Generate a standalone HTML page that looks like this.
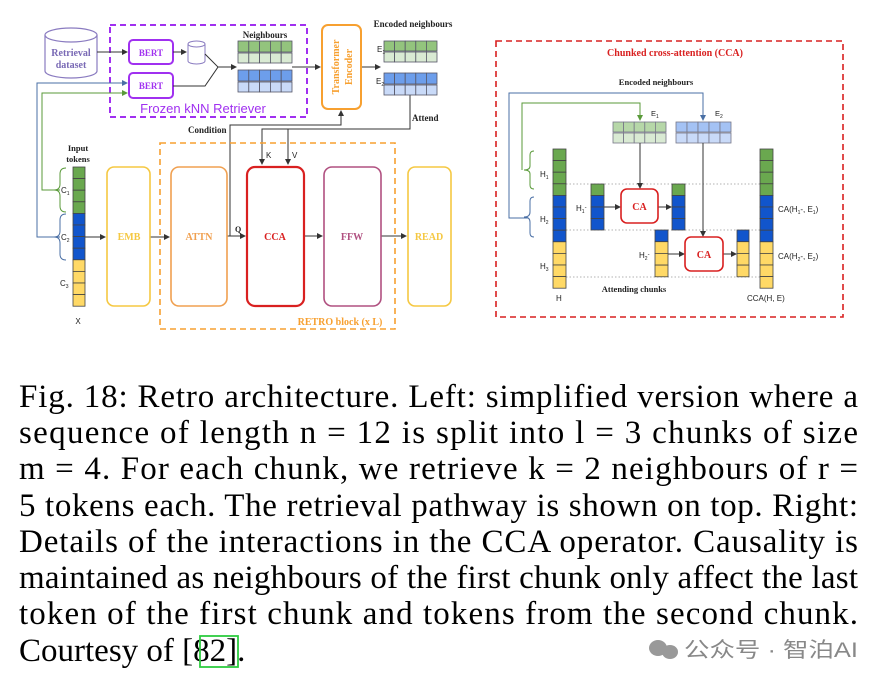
<!DOCTYPE html>
<html><head><meta charset="utf-8"><style>
html,body{margin:0;padding:0;background:#fff;width:883px;height:682px;overflow:hidden}
svg{display:block}
.s{font-family:"Liberation Serif",serif;font-weight:bold}
.a{font-family:"Liberation Sans",sans-serif}
.c{font-family:"Liberation Serif",serif;font-size:33px;fill:#000}
</style></head><body>
<svg width="883" height="682" viewBox="0 0 883 682" xmlns="http://www.w3.org/2000/svg">
<defs>
<marker id="ar" markerWidth="6" markerHeight="6" refX="5" refY="3" orient="auto" markerUnits="userSpaceOnUse"><path d="M0,0L6,3L0,6z" fill="#333"/></marker>
<marker id="ab" markerWidth="6" markerHeight="6" refX="5" refY="3" orient="auto" markerUnits="userSpaceOnUse"><path d="M0,0L6,3L0,6z" fill="#4a6fa5"/></marker>
<marker id="ag" markerWidth="6" markerHeight="6" refX="5" refY="3" orient="auto" markerUnits="userSpaceOnUse"><path d="M0,0L6,3L0,6z" fill="#5a9a3a"/></marker>
</defs>
<g stroke="#444" stroke-width="0.8">
<path d="M45,35 v36 a26,7 0 0 0 52,0 v-36" fill="#fff" stroke="#8a7bc0" stroke-width="1.2"/>
<ellipse cx="71" cy="35" rx="26" ry="7" fill="#fff" stroke="#8a7bc0" stroke-width="1.2"/>
</g>
<text x="71" y="56" class="s" font-size="10" fill="#7a6ab5" text-anchor="middle">Retrieval</text>
<text x="71" y="68" class="s" font-size="10" fill="#7a6ab5" text-anchor="middle">dataset</text>
<rect x="110" y="25" width="197" height="92" fill="none" stroke="#a030f0" stroke-width="2" stroke-dasharray="6,4"/>
<text x="203" y="113" class="a" font-size="13" fill="#a030f0" text-anchor="middle">Frozen kNN Retriever</text>
<rect x="129" y="40" width="44" height="24" rx="4" fill="#fff" stroke="#a030f0" stroke-width="2"/>
<rect x="129" y="73" width="44" height="25" rx="4" fill="#fff" stroke="#a030f0" stroke-width="2"/>
<text x="151" y="56" class="s" font-size="9" fill="#a030f0" text-anchor="middle">BERT</text>
<text x="151" y="89" class="s" font-size="9" fill="#a030f0" text-anchor="middle">BERT</text>
<path d="M188,44 v17 a8.5,3 0 0 0 17,0 v-17" fill="#fff" stroke="#8a7bc0"/>
<ellipse cx="196.5" cy="44" rx="8.5" ry="3" fill="#fff" stroke="#8a7bc0"/>
<g fill="none" stroke="#333" stroke-width="1">
<path d="M97,52 H127" marker-end="url(#ar)"/>
<path d="M173,52 H186" marker-end="url(#ar)"/>
<path d="M205,54 L218,67 L205,86 H173"/>
<path d="M218,67 H236" marker-end="url(#ar)"/>
<path d="M292,67 H320" marker-end="url(#ar)"/>
<path d="M361,67 H380" marker-end="url(#ar)"/>
<path d="M410,95 V129 H262 V164" marker-end="url(#ar)"/>
<path d="M288,129 V164" marker-end="url(#ar)"/>
<path d="M230,236 V125 H341 V111" marker-end="url(#ar)"/>
<path d="M227,236 H245" marker-end="url(#ar)"/>
<path d="M85,237 H105" marker-end="url(#ar)"/>
<path d="M150,237 H169" marker-end="url(#ar)"/>
<path d="M304,236 H322" marker-end="url(#ar)"/>
<path d="M381,236 H406" marker-end="url(#ar)"/>
</g>
<path d="M60,237 H37 V83 H127" fill="none" stroke="#4a6fa5" stroke-width="1" marker-end="url(#ab)"/>
<path d="M60,190 H42 V93 H127" fill="none" stroke="#5a9a3a" stroke-width="1" marker-end="url(#ag)"/>
<text x="265" y="38" class="s" font-size="9" fill="#222" text-anchor="middle">Neighbours</text>
<g stroke="#556" stroke-width="0.8">
<g fill="#93c47d"><rect x="238" y="41" width="10.8" height="11"/><rect x="248.8" y="41" width="10.8" height="11"/><rect x="259.6" y="41" width="10.8" height="11"/><rect x="270.4" y="41" width="10.8" height="11"/><rect x="281.2" y="41" width="10.8" height="11"/></g>
<g fill="#d9ead3"><rect x="238" y="53" width="10.8" height="10"/><rect x="248.8" y="53" width="10.8" height="10"/><rect x="259.6" y="53" width="10.8" height="10"/><rect x="270.4" y="53" width="10.8" height="10"/><rect x="281.2" y="53" width="10.8" height="10"/></g>
<g fill="#6d9eeb"><rect x="238" y="70" width="10.8" height="11"/><rect x="248.8" y="70" width="10.8" height="11"/><rect x="259.6" y="70" width="10.8" height="11"/><rect x="270.4" y="70" width="10.8" height="11"/><rect x="281.2" y="70" width="10.8" height="11"/></g>
<g fill="#c9daf8"><rect x="238" y="82" width="10.8" height="10"/><rect x="248.8" y="82" width="10.8" height="10"/><rect x="259.6" y="82" width="10.8" height="10"/><rect x="270.4" y="82" width="10.8" height="10"/><rect x="281.2" y="82" width="10.8" height="10"/></g>
<g fill="#93c47d"><rect x="384" y="41" width="10.6" height="10"/><rect x="394.6" y="41" width="10.6" height="10"/><rect x="405.2" y="41" width="10.6" height="10"/><rect x="415.8" y="41" width="10.6" height="10"/><rect x="426.4" y="41" width="10.6" height="10"/></g>
<g fill="#d9ead3"><rect x="384" y="52" width="10.6" height="10"/><rect x="394.6" y="52" width="10.6" height="10"/><rect x="405.2" y="52" width="10.6" height="10"/><rect x="415.8" y="52" width="10.6" height="10"/><rect x="426.4" y="52" width="10.6" height="10"/></g>
<g fill="#6d9eeb"><rect x="384" y="73" width="10.6" height="11"/><rect x="394.6" y="73" width="10.6" height="11"/><rect x="405.2" y="73" width="10.6" height="11"/><rect x="415.8" y="73" width="10.6" height="11"/><rect x="426.4" y="73" width="10.6" height="11"/></g>
<g fill="#c9daf8"><rect x="384" y="85" width="10.6" height="10"/><rect x="394.6" y="85" width="10.6" height="10"/><rect x="405.2" y="85" width="10.6" height="10"/><rect x="415.8" y="85" width="10.6" height="10"/><rect x="426.4" y="85" width="10.6" height="10"/></g>
</g>
<rect x="322" y="25" width="39" height="84" rx="6" fill="#fff" stroke="#f7a030" stroke-width="2"/>
<text transform="translate(339,67) rotate(-90)" class="s" font-size="10" fill="#f7a030" text-anchor="middle">Transformer</text>
<text transform="translate(352,67) rotate(-90)" class="s" font-size="10" fill="#f7a030" text-anchor="middle">Encoder</text>
<text x="413" y="27" class="s" font-size="9" fill="#222" text-anchor="middle">Encoded neighbours</text>
<text x="377" y="52" class="a" font-size="8" fill="#222">E<tspan font-size="5" dy="2">1</tspan></text>
<text x="376" y="84" class="a" font-size="8" fill="#222">E<tspan font-size="5" dy="2">2</tspan></text>
<text x="412" y="121" class="s" font-size="9" fill="#222">Attend</text>
<text x="188" y="133" class="s" font-size="9" fill="#222">Condition</text>
<text x="266" y="158" class="a" font-size="8" fill="#222">K</text>
<text x="292" y="158" class="a" font-size="8" fill="#222">V</text>
<text x="235" y="232" class="s" font-size="8" fill="#222">Q</text>
<rect x="160" y="143" width="235" height="186" fill="none" stroke="#f7a030" stroke-width="1.6" stroke-dasharray="6,4"/>
<text x="340" y="325" class="s" font-size="10" fill="#f7a030" text-anchor="middle">RETRO block (x L)</text>
<text x="78" y="151" class="s" font-size="8.5" fill="#222" text-anchor="middle">Input</text>
<text x="78" y="162" class="s" font-size="8.5" fill="#222" text-anchor="middle">tokens</text>
<g stroke="#444" stroke-width="0.8">
<g fill="#6aa84f"><rect x="73" y="167" width="12" height="11.6"/><rect x="73" y="178.6" width="12" height="11.6"/><rect x="73" y="190.2" width="12" height="11.6"/><rect x="73" y="201.8" width="12" height="11.6"/></g>
<g fill="#1155cc"><rect x="73" y="213.4" width="12" height="11.6"/><rect x="73" y="225" width="12" height="11.6"/><rect x="73" y="236.6" width="12" height="11.6"/><rect x="73" y="248.2" width="12" height="11.6"/></g>
<g fill="#ffd966"><rect x="73" y="259.8" width="12" height="11.6"/><rect x="73" y="271.4" width="12" height="11.6"/><rect x="73" y="283" width="12" height="11.6"/><rect x="73" y="294.6" width="12" height="11.6"/></g>
</g>
<path d="M66,168 q-6,0 -6,6 v10 q0,6 -6,6 q6,0 6,6 v10 q0,6 6,6" fill="none" stroke="#5a9a3a"/>
<path d="M66,214 q-6,0 -6,6 v11 q0,6 -6,6 q6,0 6,6 v11 q0,6 6,6" fill="none" stroke="#4a6fa5"/>
<text x="61" y="193" class="a" font-size="8" fill="#222">C<tspan font-size="5" dy="2">1</tspan></text>
<text x="61" y="240" class="a" font-size="8" fill="#222">C<tspan font-size="5" dy="2">2</tspan></text>
<text x="60" y="286" class="a" font-size="8" fill="#222">C<tspan font-size="5" dy="2">3</tspan></text>
<text x="78" y="324" class="a" font-size="8" fill="#222" text-anchor="middle">X</text>
<rect x="107" y="167" width="43" height="139" rx="7" fill="none" stroke="#f5c842" stroke-width="1.6"/>
<rect x="171" y="167" width="56" height="139" rx="8" fill="none" stroke="#f0a050" stroke-width="1.6"/>
<rect x="247" y="167" width="57" height="139" rx="8" fill="none" stroke="#d92020" stroke-width="2.2"/>
<rect x="324" y="167" width="57" height="139" rx="8" fill="none" stroke="#b05080" stroke-width="1.6"/>
<rect x="408" y="167" width="43" height="139" rx="7" fill="none" stroke="#f5c842" stroke-width="1.6"/>
<text x="129" y="240" class="s" font-size="10" fill="#f5c842" text-anchor="middle">EMB</text>
<text x="199" y="240" class="s" font-size="10" fill="#f0a050" text-anchor="middle">ATTN</text>
<text x="275" y="240" class="s" font-size="10" fill="#d92020" text-anchor="middle">CCA</text>
<text x="352" y="240" class="s" font-size="10" fill="#b05080" text-anchor="middle">FFW</text>
<text x="429" y="240" class="s" font-size="10" fill="#f5c842" text-anchor="middle">READ</text>

<rect x="496" y="41" width="347" height="276" fill="none" stroke="#d92020" stroke-width="1.6" stroke-dasharray="6,4"/>
<text x="675" y="56" class="s" font-size="10" fill="#d92020" text-anchor="middle">Chunked cross-attention (CCA)</text>
<text x="656" y="85" class="s" font-size="8.5" fill="#222" text-anchor="middle">Encoded neighbours</text>
<path d="M522,170 V103 H640 V120" fill="none" stroke="#5a9a3a" marker-end="url(#ag)"/>
<path d="M528,218 H509 V93 H703 V120" fill="none" stroke="#4a6fa5" marker-end="url(#ab)"/>
<text x="651" y="116" class="a" font-size="7.5" fill="#222">E<tspan font-size="5" dy="2">1</tspan></text>
<text x="715" y="116" class="a" font-size="7.5" fill="#222">E<tspan font-size="5" dy="2">2</tspan></text>
<g stroke="#778" stroke-width="0.8">
<g fill="#b6d7a8"><rect x="613" y="122" width="10.6" height="10"/><rect x="623.6" y="122" width="10.6" height="10"/><rect x="634.2" y="122" width="10.6" height="10"/><rect x="644.8" y="122" width="10.6" height="10"/><rect x="655.4" y="122" width="10.6" height="10"/></g>
<g fill="#d9ead3"><rect x="613" y="133" width="10.6" height="10"/><rect x="623.6" y="133" width="10.6" height="10"/><rect x="634.2" y="133" width="10.6" height="10"/><rect x="644.8" y="133" width="10.6" height="10"/><rect x="655.4" y="133" width="10.6" height="10"/></g>
<g fill="#a4c2f4"><rect x="676" y="122" width="11" height="10"/><rect x="687" y="122" width="11" height="10"/><rect x="698" y="122" width="11" height="10"/><rect x="709" y="122" width="11" height="10"/><rect x="720" y="122" width="11" height="10"/></g>
<g fill="#c9daf8"><rect x="676" y="133" width="11" height="10"/><rect x="687" y="133" width="11" height="10"/><rect x="698" y="133" width="11" height="10"/><rect x="709" y="133" width="11" height="10"/><rect x="720" y="133" width="11" height="10"/></g>
</g>
<g stroke="#999" stroke-width="0.8" stroke-dasharray="1.5,2">
<path d="M566,184 H760 M566,230 H760 M566,277 H760"/>
</g>
<g fill="none" stroke="#333" stroke-width="1">
<path d="M640,143 V188" marker-end="url(#ar)"/>
<path d="M703,143 V236" marker-end="url(#ar)"/>
<path d="M604,207 H620" marker-end="url(#ar)"/>
<path d="M658,207 H671" marker-end="url(#ar)"/>
<path d="M668,254 H684" marker-end="url(#ar)"/>
<path d="M723,254 H736" marker-end="url(#ar)"/>
</g>
<path d="M534,151 q-4,0 -4,4 v11 q0,4 -6,4 q6,0 6,4 v11 q0,4 4,4" fill="none" stroke="#5a9a3a"/>
<path d="M534,197 q-4,0 -4,4 v11 q0,5 -6,5 q6,0 6,5 v11 q0,4 4,4" fill="none" stroke="#4a6fa5"/>
<g stroke="#444" stroke-width="0.8">
<g fill="#6aa84f"><rect x="553" y="149" width="13" height="11.6"/><rect x="553" y="160.6" width="13" height="11.6"/><rect x="553" y="172.2" width="13" height="11.6"/><rect x="553" y="183.8" width="13" height="11.6"/>
<rect x="760" y="149" width="13" height="11.6"/><rect x="760" y="160.6" width="13" height="11.6"/><rect x="760" y="172.2" width="13" height="11.6"/><rect x="760" y="183.8" width="13" height="11.6"/>
<rect x="591" y="184" width="13" height="11.5"/><rect x="672" y="184" width="13" height="11.5"/></g>
<g fill="#1155cc"><rect x="553" y="195.4" width="13" height="11.6"/><rect x="553" y="207" width="13" height="11.6"/><rect x="553" y="218.6" width="13" height="11.6"/><rect x="553" y="230.2" width="13" height="11.6"/>
<rect x="760" y="195.4" width="13" height="11.6"/><rect x="760" y="207" width="13" height="11.6"/><rect x="760" y="218.6" width="13" height="11.6"/><rect x="760" y="230.2" width="13" height="11.6"/>
<rect x="591" y="195.5" width="13" height="11.5"/><rect x="591" y="207" width="13" height="11.5"/><rect x="591" y="218.5" width="13" height="11.5"/>
<rect x="672" y="195.5" width="13" height="11.5"/><rect x="672" y="207" width="13" height="11.5"/><rect x="672" y="218.5" width="13" height="11.5"/>
<rect x="655" y="230" width="13" height="11.7"/><rect x="737" y="230" width="12" height="11.7"/></g>
<g fill="#ffd966"><rect x="553" y="241.8" width="13" height="11.6"/><rect x="553" y="253.4" width="13" height="11.6"/><rect x="553" y="265" width="13" height="11.6"/><rect x="553" y="276.6" width="13" height="11.6"/>
<rect x="760" y="241.8" width="13" height="11.6"/><rect x="760" y="253.4" width="13" height="11.6"/><rect x="760" y="265" width="13" height="11.6"/><rect x="760" y="276.6" width="13" height="11.6"/>
<rect x="655" y="241.7" width="13" height="11.7"/><rect x="655" y="253.4" width="13" height="11.7"/><rect x="655" y="265.1" width="13" height="11.7"/>
<rect x="737" y="241.7" width="12" height="11.7"/><rect x="737" y="253.4" width="12" height="11.7"/><rect x="737" y="265.1" width="12" height="11.7"/></g>
</g>
<rect x="621" y="189" width="37" height="34" rx="6" fill="#fff" stroke="#d92020" stroke-width="1.6"/>
<rect x="685" y="237" width="38" height="34" rx="6" fill="#fff" stroke="#d92020" stroke-width="1.6"/>
<text x="639.5" y="210" class="s" font-size="10" fill="#d92020" text-anchor="middle">CA</text>
<text x="704" y="258" class="s" font-size="10" fill="#d92020" text-anchor="middle">CA</text>
<g class="a" font-size="8" fill="#222">
<text x="540" y="177">H<tspan font-size="5" dy="2">1</tspan></text>
<text x="540" y="222">H<tspan font-size="5" dy="2">2</tspan></text>
<text x="540" y="269">H<tspan font-size="5" dy="2">3</tspan></text>
<text x="556" y="301">H</text>
<text x="576" y="211">H<tspan font-size="5" dy="2">1</tspan><tspan dy="-4" font-size="6">-</tspan></text>
<text x="639" y="258">H<tspan font-size="5" dy="2">2</tspan><tspan dy="-4" font-size="6">-</tspan></text>
<text x="778" y="212">CA(H<tspan font-size="5" dy="2">1</tspan><tspan dy="-2">-, E</tspan><tspan font-size="5" dy="2">1</tspan><tspan dy="-2">)</tspan></text>
<text x="778" y="259">CA(H<tspan font-size="5" dy="2">2</tspan><tspan dy="-2">-, E</tspan><tspan font-size="5" dy="2">2</tspan><tspan dy="-2">)</tspan></text>
<text x="747" y="301">CCA(H, E)</text>
</g>
<text x="634" y="292" class="s" font-size="8.5" fill="#222" text-anchor="middle">Attending chunks</text>

<text x="19" y="407" class="c" textLength="839" lengthAdjust="spacing">Fig. 18: Retro architecture. Left: simplified version where a</text>
<text x="19" y="443" class="c" textLength="839" lengthAdjust="spacing">sequence of length n = 12 is split into l = 3 chunks of size</text>
<text x="19" y="479" class="c" textLength="839" lengthAdjust="spacing">m = 4. For each chunk, we retrieve k = 2 neighbours of r =</text>
<text x="19" y="516" class="c" textLength="839" lengthAdjust="spacing">5 tokens each. The retrieval pathway is shown on top. Right:</text>
<text x="19" y="552" class="c" textLength="839" lengthAdjust="spacing">Details of the interactions in the CCA operator. Causality is</text>
<text x="19" y="588" class="c" textLength="839" lengthAdjust="spacing">maintained as neighbours of the first chunk only affect the last</text>
<text x="19" y="624" class="c" textLength="839" lengthAdjust="spacing">token of the first chunk and tokens from the second chunk.</text>
<text x="19" y="661" class="c">Courtesy of [<tspan>82</tspan>].</text>
<rect x="200" y="636" width="38" height="31" fill="none" stroke="#2ecc40" stroke-width="1.8"/>
<g fill="#999">
<ellipse cx="658" cy="648" rx="9" ry="8"/><ellipse cx="670" cy="652" rx="8" ry="7"/>
</g>
<text x="684" y="657" font-family="'Liberation Sans','Noto Sans CJK SC',sans-serif" font-size="21" fill="#888" textLength="174" lengthAdjust="spacingAndGlyphs">公众号 · 智泊AI</text>
</svg>
</body></html>
